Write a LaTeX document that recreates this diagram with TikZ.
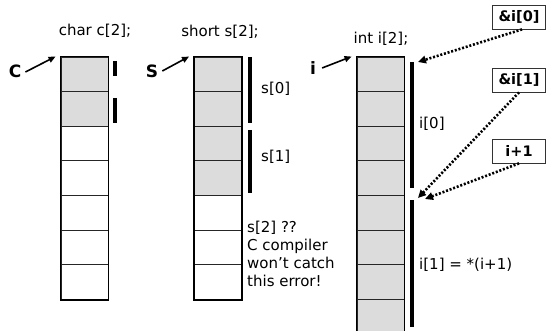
\documentclass[tikz,border=0pt]{standalone}
\usepackage{fontspec}
\setmainfont{DejaVu Sans}
\usetikzlibrary{arrows.meta}
\definecolor{cellgray}{HTML}{DCDCDC}
\tikzset{
  cell/.style={draw=black!85, line width=0.9pt, minimum width=47pt, minimum height=34.6pt, inner sep=0pt},
  txt/.style={font=\fontsize{15}{18}\selectfont, inner sep=0pt},
  biglbl/.style={font=\fontsize{17}{20}\selectfont\bfseries, inner sep=0pt},
  addrbox/.style={draw=black!80, line width=0.8pt, minimum width=53pt, minimum height=24pt, inner sep=0pt, font=\fontsize{14.5}{17}\selectfont\bfseries},
  bar/.style={line width=3.6pt, line cap=butt},
  ptr/.style={line width=1.6pt, -{Triangle[length=7pt,width=6pt]}},
  dotarrow/.style={line width=2.6pt, dash pattern=on 2pt off 1.8pt, -{Triangle[length=8pt,width=7.5pt]}}
}
\begin{document}
\begin{tikzpicture}[x=1pt,y=-1pt]
\useasboundingbox (0,0) rectangle (550,331);
\fill[white] (0,0) rectangle (550,331);
% char column
\foreach \k in {1,...,7}{
  \pgfmathsetmacro{\yy}{57+34.6*(\k-0.5)}
  \ifnum\k<3 \def\fc{cellgray}\else\def\fc{white}\fi
  \node[cell, fill=\fc] (c\k) at (84.5,\yy) {};
}
\draw[line width=1.8pt] (c1.north west) rectangle (c7.south east);
% short column
\foreach \k in {1,...,7}{
  \pgfmathsetmacro{\yy}{57+34.6*(\k-0.5)}
  \ifnum\k<5 \def\fc{cellgray}\else\def\fc{white}\fi
  \node[cell, fill=\fc] (s\k) at (218,\yy) {};
}
\draw[line width=1.8pt] (s1.north west) rectangle (s7.south east);
% int column
\foreach \k in {1,...,8}{
  \pgfmathsetmacro{\yy}{57+34.6*(\k-0.5)}
  \node[cell, fill=cellgray] (n\k) at (380.5,\yy) {};
}
\draw[line width=1.8pt] (n8.south west) -- (n1.north west) -- (n1.north east) -- (n8.south east);

% headers
\node[txt] (hc) at (95,31) {char c[2];};
\node[txt] (hs) at (220,32) {short s[2];};
\node[txt] (hi) at (381,39) {int i[2];};

% pointer labels
\node[biglbl] (lc) at (15,71) {C};
\node[biglbl] (ls) at (152,71) {S};
\node[biglbl] (li) at (313,68) {i};
\draw[ptr] (lc.east) ++(4,1) -- ([shift={(-5,0)}]c1.north west);
\draw[ptr] (ls.east) ++(4,0) -- ([shift={(-5,0)}]s1.north west);
\draw[ptr] (li.east) ++(6,0) -- ([shift={(-5,0)}]n1.north west);

% bars
\draw[bar] (115,61) -- (115,76);
\draw[bar] (115,98) -- (115,123);
\draw[bar] (250,57) -- (250,123);
\draw[bar] (250,130) -- (250,193);
\draw[bar] (412,62) -- (412,188);
\draw[bar] (412,200) -- (412,327);

% element labels
\node[txt, anchor=west] (ls0) at (261,89) {s[0]};
\node[txt, anchor=west] (ls1) at (261,157) {s[1]};
\node[txt, anchor=west] (li0) at (419,124) {i[0]};
\node[txt, anchor=west] (li1) at (419,265) {i[1] = *(i+1)};
\node[txt, anchor=north west, align=left] (err) at (247,221) {s[2] ??\\C compiler\\won’t catch\\this error!};

% address boxes
\node[addrbox] (a0) at (519,17) {\&i[0]};
\node[addrbox] (a1) at (519,80) {\&i[1]};
\node[addrbox] (a2) at (519,151) {i+1};
\coordinate (t0) at (418,62);
\coordinate (t1) at (418,198);
\coordinate (t2) at (425,199);
\draw[dotarrow] ([xshift=3pt]a0.south) -- (t0);
\draw[dotarrow] (a1.south) -- (t1);
\draw[dotarrow] (a2.south) -- (t2);
\end{tikzpicture}
\end{document}
